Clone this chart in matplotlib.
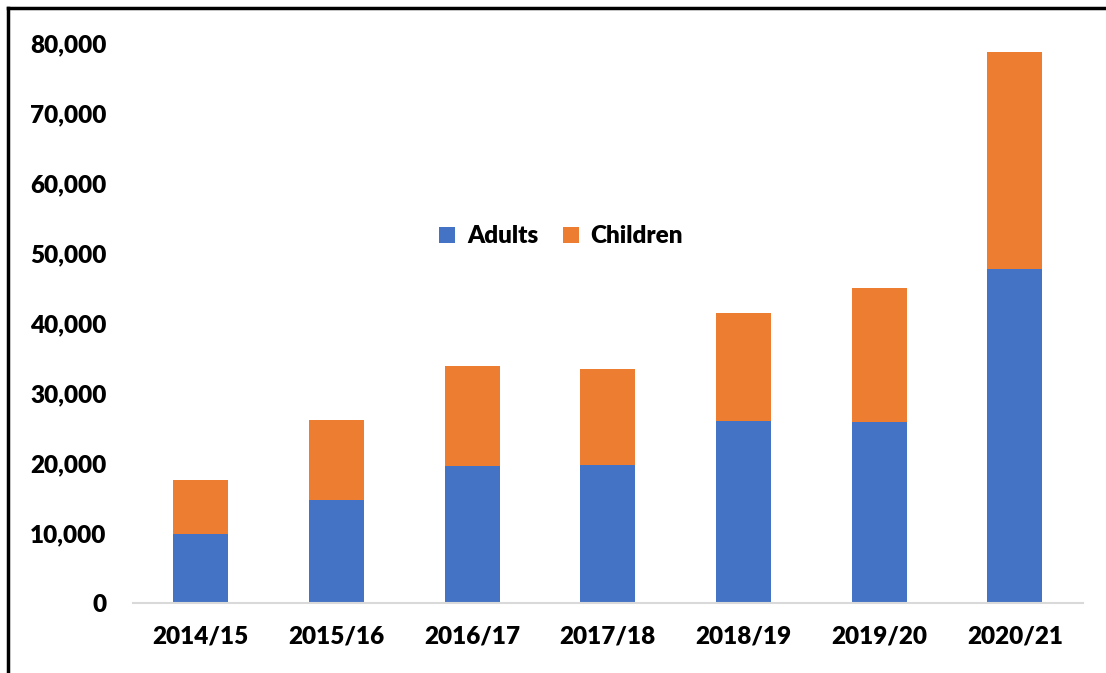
"""Stacked bars: adults and children per year."""

import numpy as np
import matplotlib
matplotlib.use('Agg')
import matplotlib.pyplot as plt
from matplotlib.ticker import FuncFormatter

years = ['2014/15', '2015/16', '2016/17', '2017/18', '2018/19', '2019/20', '2020/21']
adults = [9800, 14700, 19600, 19700, 26000, 25900, 47700]
totals = [17600, 26200, 33800, 33500, 41400, 45000, 78700]
children = [t - a for t, a in zip(totals, adults)]

WEIGHT = 'heavy'
plt.rcParams['font.family'] = ['Lato', 'DejaVu Sans']
plt.rcParams['font.weight'] = WEIGHT

fig = plt.figure(figsize=(11.06, 6.73), dpi=100)
ax = fig.add_axes([0.120, 0.104, 0.859, 0.832])

x = np.arange(len(years))
ax.bar(x, adults, width=0.405, color='#4472C4', label='Adults')
ax.bar(x, children, width=0.405, bottom=adults, color='#ED7D31', label='Children')

ax.set_ylim(0, 80000)
ax.set_xlim(-0.5, len(years) - 0.5)
ax.set_yticks(range(0, 80001, 10000))
ax.yaxis.set_major_formatter(FuncFormatter(lambda v, p: '{:,.0f}'.format(v)))
ax.set_xticks(x)
ax.set_xticklabels(years)
ax.tick_params(axis='both', length=0, labelsize=17.5)
ax.tick_params(axis='y', pad=19)
ax.tick_params(axis='x', pad=16)
for lab in ax.get_xticklabels() + ax.get_yticklabels():
    lab.set_fontweight(WEIGHT)

for side in ['top', 'right', 'left']:
    ax.spines[side].set_visible(False)
ax.spines['bottom'].set_color('#D9D9D9')
ax.spines['bottom'].set_linewidth(1.5)

leg = ax.legend(loc='center', bbox_to_anchor=(0.451, 0.655), ncol=2, frameon=False,
                fontsize=17.5, handlelength=0.65, handleheight=0.65, columnspacing=1.0,
                handletextpad=0.5)
for t in leg.get_texts():
    t.set_fontweight(WEIGHT)

# outer frame, only top and left edges show in the picture
fig.add_artist(plt.Line2D([8 / 1106, 8 / 1106], [0, 1 - 8 / 673], transform=fig.transFigure,
                          color='black', linewidth=2.5))
fig.add_artist(plt.Line2D([8 / 1106, 1], [1 - 8 / 673, 1 - 8 / 673], transform=fig.transFigure,
                          color='black', linewidth=2.5))

fig.savefig('out.png', dpi=100)
